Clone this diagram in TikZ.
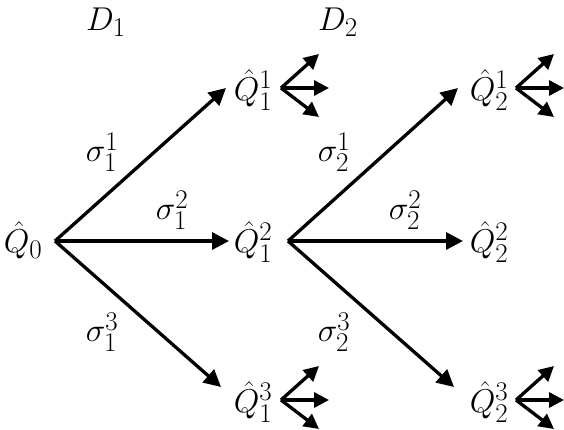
\documentclass[tikz,border=0pt]{standalone}
\usepackage{fix-cm}
\usepackage{amsmath}
\DeclareMathSizes{33}{33}{27}{22}
\usetikzlibrary{arrows.meta}
\begin{document}
\begin{tikzpicture}[x=1pt,y=-1pt,
  font=\fontsize{33}{40}\selectfont,
  arr/.style={line width=3.3pt,-{Triangle[length=17pt,width=17pt]}},
  lbl/.style={inner sep=0pt},
  fan/.style={line width=3.3pt,-{Triangle[length=15pt,width=15pt]}}]
\useasboundingbox (0,0) rectangle (564,429);
% headers
\node[lbl] (d1) at (106,22) {$D_1$};
\node[lbl] (d2) at (338,22) {$D_2$};
% state nodes
\node[lbl] (q0)  at (23,240) {$\hat{Q}_0$};
\node[lbl] (q11) at (253,90)  {$\hat{Q}_1^1$};
\node[lbl] (q12) at (253,242) {$\hat{Q}_1^2$};
\node[lbl] (q13) at (253,402) {$\hat{Q}_1^3$};
\node[lbl] (q21) at (489,90)  {$\hat{Q}_2^1$};
\node[lbl] (q22) at (489,242) {$\hat{Q}_2^2$};
\node[lbl] (q23) at (489,402) {$\hat{Q}_2^3$};
% connector points
\coordinate (s0) at (55,241);
\coordinate (s1) at (288,241);
\coordinate (t11) at (226,88);
\coordinate (t12) at (229,241);
\coordinate (t13) at (221,387);
\coordinate (t21) at (458,88);
\coordinate (t22) at (463,241);
\coordinate (t23) at (454,387);
\draw[arr] (s0) -- (t11);
\draw[arr] (s0) -- (t12);
\draw[arr] (s0) -- (t13);
\draw[arr] (s1) -- (t21);
\draw[arr] (s1) -- (t22);
\draw[arr] (s1) -- (t23);
% labels
\node[lbl] (l11) at (102,152) {$\sigma_1^1$};
\node[lbl] (l12) at (172,210) {$\sigma_1^2$};
\node[lbl] (l13) at (102,332) {$\sigma_1^3$};
\node[lbl] (l21) at (334,152) {$\sigma_2^1$};
\node[lbl] (l22) at (405,210) {$\sigma_2^2$};
\node[lbl] (l23) at (334,332) {$\sigma_2^3$};
% small fans
\foreach \n/\x/\y in {f11/281/88, f13/281/400, f21/516/88, f23/516/400}{
  \coordinate (\n) at (\x,\y);
  \draw[fan] (\n) -- ++(38,-34);
  \draw[fan] (\n) -- ++(48,0);
  \draw[fan] (\n) -- ++(38,29);
}
\end{tikzpicture}
\end{document}
